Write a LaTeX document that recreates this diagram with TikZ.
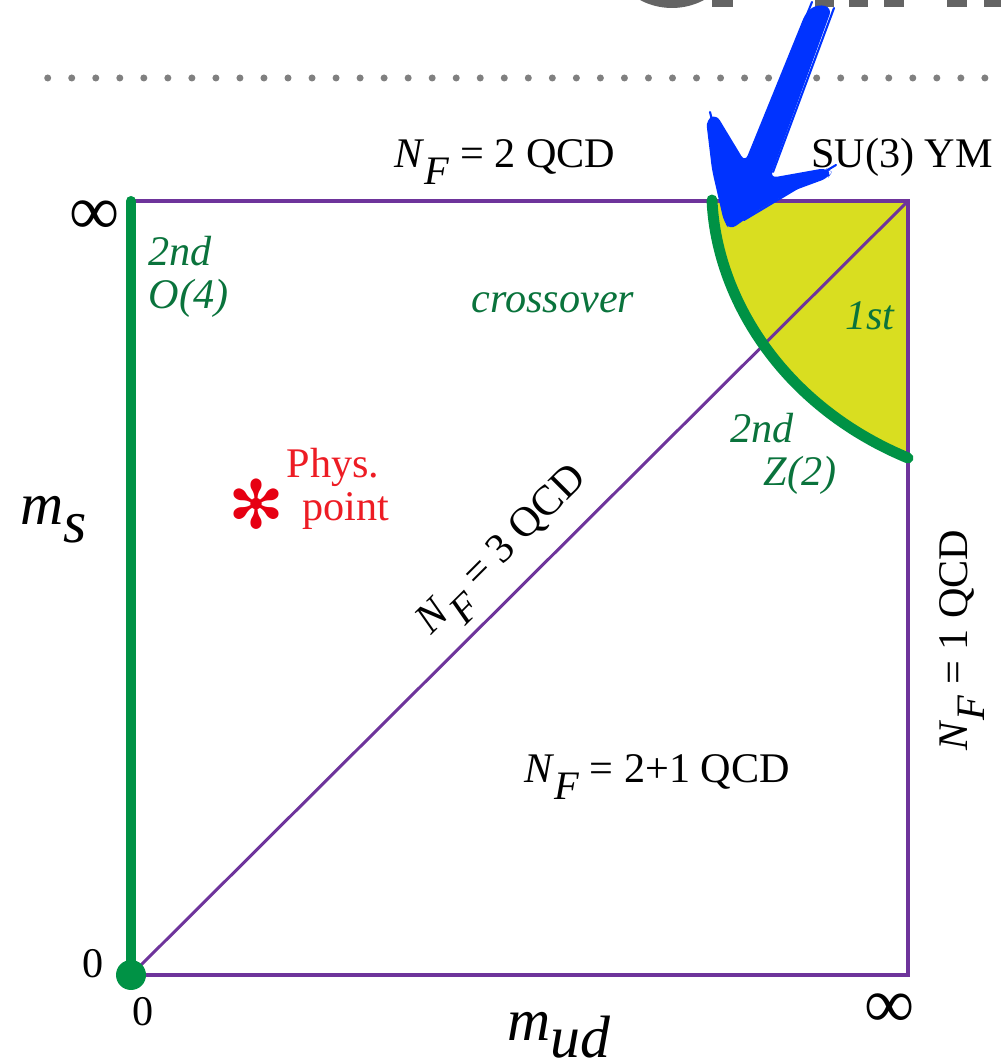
\documentclass[tikz,border=0pt]{standalone}
\usepackage{fontspec}
\setmainfont{Liberation Serif}[ItalicFont={Liberation Serif Italic}, BoldFont={Liberation Serif Bold}]
\newfontfamily\symfont{DejaVu Sans}
\usepackage{tikz}
\usetikzlibrary{positioning}
\usepackage{xcolor}
\definecolor{edgepurple}{RGB}{110,52,155}
\definecolor{linegreen}{RGB}{0,146,69}
\definecolor{txtgreen}{RGB}{10,115,60}
\definecolor{regionyellow}{RGB}{217,222,32}
\definecolor{physred}{RGB}{237,28,36}
\definecolor{starred}{RGB}{230,0,18}
\definecolor{penblue}{RGB}{0,51,255}
\definecolor{dotgray}{RGB}{128,128,128}
\definecolor{titlegray}{RGB}{100,100,100}
\newcommand{\NF}{\textit{N}\raisebox{-0.4em}{\fontsize{11.5}{11.5}\selectfont\textit{F}}}
\newcommand{\axislbl}[2]{{\fontsize{17}{17}\selectfont\textit{#1}\raisebox{-0.3em}{\textit{#2}}}}

\begin{document}
\begin{tikzpicture}[x=0.01cm, y=0.01cm, every node/.style={font=\fontsize{12}{12}\selectfont, inner sep=0pt},
  phase/.style={text=txtgreen, font=\fontsize{12}{12}\selectfont\itshape},
  bigsym/.style={font=\fontsize{20}{20}\selectfont}]
  \useasboundingbox (0,0) rectangle (1001,1058);
  \begin{scope}
    \clip (0,1040) rectangle (1001,1058);
    \fill[titlegray] (672,1118) circle (68);
    \foreach \a/\b in {712/733,815/834,849/868,884/904,947/967,984/1001}
      \fill[titlegray] (\a,1051) rectangle (\b,1060);
  \end{scope}
  \foreach \k in {0,...,39}
    \fill[dotgray] ({47.7+24.03*\k},980) circle (3.5);

  \coordinate (o) at (131,83);
  \coordinate (nw) at (131,857);
  \coordinate (ne) at (908,857);
  \coordinate (se) at (908,83);
  \coordinate (arcs) at (712,858);
  \coordinate (arce) at (908,600);

  \fill[regionyellow] (arcs) .. controls (716,763) and (780,653) .. (arce) -- (ne) -- cycle;
  \draw[edgepurple, line width=1.1pt] (nw) -- (ne) -- (se) -- (o);
  \draw[edgepurple, line width=0.85pt] (o) -- (ne);
  \draw[linegreen, line width=2.85pt, line cap=round] (o) -- (nw);
  \fill[linegreen] (o) circle (15);
  \draw[linegreen, line width=3.1pt, line cap=round] (arcs) .. controls (716,763) and (780,653) .. (arce);

  \node[anchor=base] (nf2) at (505,890) {\NF{} = 2 QCD};
  \node[anchor=base] (su3) at (902,890) {SU(3) YM};
  \node[bigsym] (inftop) at (95,840) {∞};
  \node[bigsym] (infbot) at (890,47) {∞};
  \node (zl) at (93,94) {0};
  \node (zb) at (143,46) {0};
  \node[anchor=base west] (ms) at (20,533) {\axislbl{m}{s}};
  \node[anchor=base west] (mud) at (507,18) {\axislbl{m}{ud}};

  \node[phase, align=left, anchor=north west] (o4) at (148,822) {2nd\\O(4)};
  \node[phase, anchor=base] (cross) at (553,745) {crossover};
  \node[phase, anchor=base] (first) at (870,728) {1st};
  \node[phase, align=left, anchor=north west] (z2) at (730,645) {2nd\\\hspace*{0.78em}Z(2)};

  \node[text=starred] (star) at (256,554) {\symfont\fontsize{19}{19}\selectfont ✻};
  \node[text=physred, align=left, anchor=north west] (phys) at (286,610) {Phys.\\\hspace*{0.38em}point};

  \node[rotate=45] (nf3) at (506,504) {\NF{} = 3 QCD};
  \node[rotate=90] (nf1) at (962,418) {\NF{} = 1 QCD};
  \node[anchor=base] (nf21) at (657,275) {\NF{} = 2+1 QCD};

  \fill[penblue, rounded corners=2pt] (706,938) -- (716,944) -- (745,896) -- (806,1046) -- (818,1054)
    -- (832,1050) -- (770,880) -- (826,890) -- (832,886) -- (828,880) -- (790,866) -- (757,847)
    -- (730,828) -- (724,836) -- (712,888) -- cycle;
  \draw[penblue, line width=0.6pt, line cap=round] (812,1056) -- (742,882);
  \draw[penblue, line width=0.6pt, line cap=round] (834,1050) -- (773,886);
  \draw[penblue, line width=0.6pt, line cap=round] (710,946) -- (736,838);
  \draw[penblue, line width=0.6pt, line cap=round] (836,893) -- (744,838);
\end{tikzpicture}
\end{document}
